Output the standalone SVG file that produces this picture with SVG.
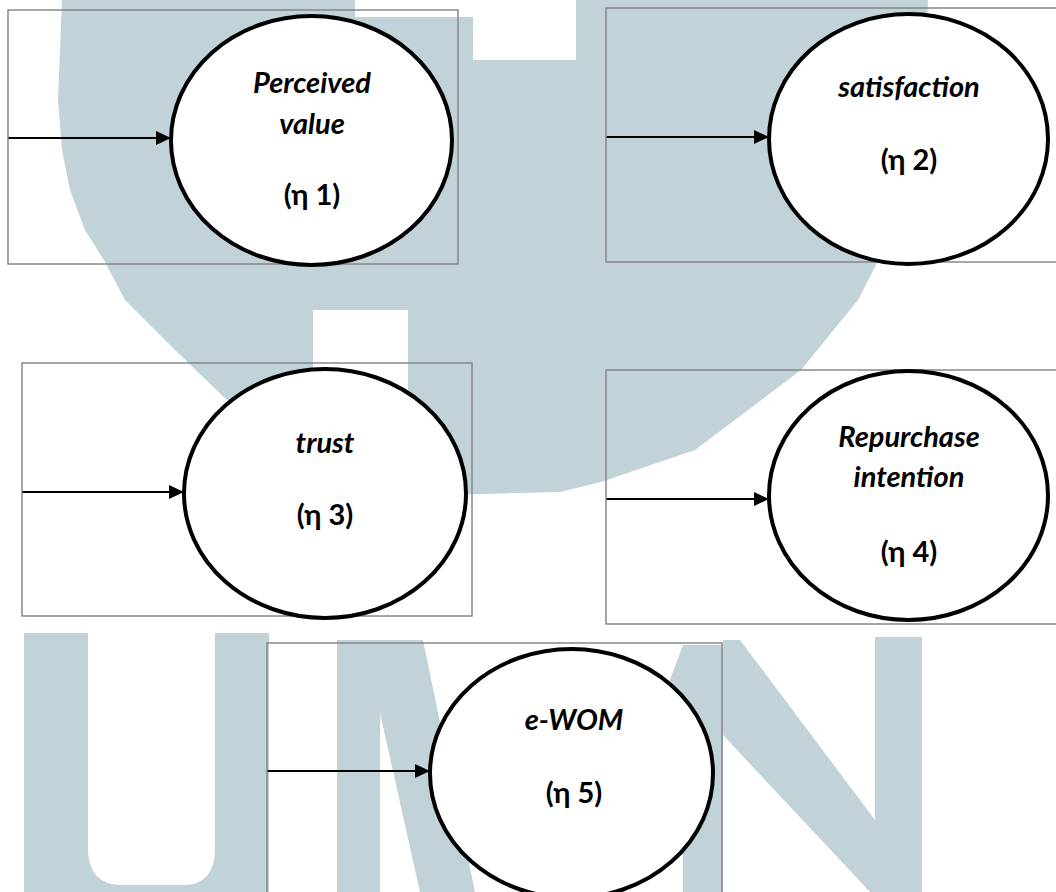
<svg xmlns="http://www.w3.org/2000/svg" width="1056" height="892" viewBox="0 0 1056 892">
<defs>
<marker id="arr" markerWidth="16" markerHeight="14" refX="15" refY="7" orient="auto" markerUnits="userSpaceOnUse">
<path d="M0,0 L15,7 L0,14 Z" fill="#000"/>
</marker>
<style>
.wm{fill:#c1d3d9;stroke:none}
.box{fill:none;stroke:#808080;stroke-width:1.4}
.ell{fill:#fff;stroke:#000;stroke-width:4}
.con{stroke:#000;stroke-width:2;fill:none}
.lbl{font-family:Lato,"Noto Sans",sans-serif;font-size:29px;font-weight:bold;font-style:italic;fill:#000;text-anchor:middle}
.eta{font-family:Lato,"Noto Sans",sans-serif;font-size:29px;font-weight:bold;fill:#000;text-anchor:middle}
</style>
</defs>
<rect width="1056" height="892" fill="#fff"/>
<g id="watermark">
<path class="wm" d="M62,0 L355,0 L355,17 L473,17 L473,60 L576,60 L576,0 L928,0 L924,100 L905,200 L876,265 L858,300 L801,370 L695,450 L601,482 L560,492 L408,496 L408,310 L313,310 L313,486 L227,400 L175,350 L125,300 L105,262 L85,230 L70,190 L62,150 L58,100 Z"/>
<path class="wm" d="M24,633 H88 V848 Q88,885 122,885 H183 Q215,885 215,848 V633 H269 V892 H24 Z"/>
<path class="wm" d="M337,640 L423,640 L475,892 L420,892 L380,713 L380,892 L337,892 Z"/>
<path class="wm" d="M683,645 L723,645 L723,892 L683,892 L683,760 L620,892 L590,892 Z"/>
<path class="wm" d="M723,640 L740,640 L875,820 L875,637 L922,637 L922,892 L870,892 L723,735 Z"/>
</g>
<g id="connectors">
<line class="con" x1="8" y1="138" x2="171" y2="138" marker-end="url(#arr)"/>
<line class="con" x1="606" y1="137" x2="769" y2="137" marker-end="url(#arr)"/>
<line class="con" x1="22" y1="492" x2="184" y2="492" marker-end="url(#arr)"/>
<line class="con" x1="606" y1="499" x2="769" y2="499" marker-end="url(#arr)"/>
<line class="con" x1="267" y1="771" x2="430" y2="771" marker-end="url(#arr)"/>
</g>
<g id="node1">
<rect class="box" x="8" y="10" width="450" height="254"/>
<ellipse class="ell" cx="311.5" cy="140.5" rx="140.5" ry="124.5"/>
<text class="lbl" x="312" y="93">Perceived</text>
<text class="lbl" x="312" y="134">value</text>
<text class="eta" x="312" y="205">(η 1)</text>
</g>
<g id="node2">
<rect class="box" x="606" y="8" width="455" height="254"/>
<ellipse class="ell" cx="908.5" cy="139" rx="139.5" ry="125"/>
<text class="lbl" x="909" y="97">satisfaction</text>
<text class="eta" x="909" y="170">(η 2)</text>
</g>
<g id="node3">
<rect class="box" x="22" y="363" width="450" height="253"/>
<ellipse class="ell" cx="325" cy="493.5" rx="141" ry="124.5"/>
<text class="lbl" x="325" y="453">trust</text>
<text class="eta" x="325" y="525">(η 3)</text>
</g>
<g id="node4">
<rect class="box" x="606" y="370" width="455" height="254"/>
<ellipse class="ell" cx="908.5" cy="495.5" rx="139.5" ry="124.5"/>
<text class="lbl" x="909" y="447">Repurchase</text>
<text class="lbl" x="909" y="487">intention</text>
<text class="eta" x="909" y="562">(η 4)</text>
</g>
<g id="node5">
<rect class="box" x="267" y="643" width="455" height="260"/>
<ellipse class="ell" cx="571.5" cy="773.5" rx="141.5" ry="124.5"/>
<text class="lbl" x="574" y="730">e-WOM</text>
<text class="eta" x="574" y="803">(η 5)</text>
</g>
</svg>
